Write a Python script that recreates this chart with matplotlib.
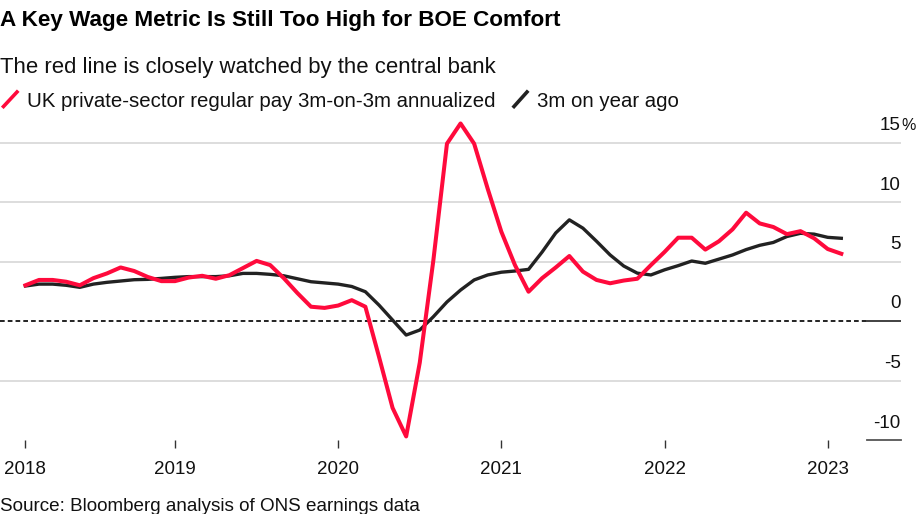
import matplotlib
matplotlib.use('Agg')
import matplotlib.pyplot as plt
from matplotlib.lines import Line2D
import matplotlib.transforms as mtransforms

plt.rcParams['font.family'] = ['Liberation Sans', 'DejaVu Sans']

# ---- data (month index: 0 = Jan 2018) ----
months = list(range(1, 62))  # Feb 2018 .. Feb 2023
red_3m3m = [3.0, 3.45, 3.45, 3.3, 3.0, 3.6, 4.0, 4.5, 4.2, 3.7, 3.35,
            3.35, 3.65, 3.8, 3.55, 3.85, 4.45, 5.05, 4.7, 3.6, 2.35, 1.2,
            1.1, 1.3, 1.75, 1.2, -3.0, -7.3, -9.7, -3.5, 5.1, 14.9, 16.6,
            14.9, 11.1, 7.5, 4.7, 2.46, 3.6, 4.5, 5.46, 4.15, 3.45, 3.17,
            3.4, 3.55, 4.7, 5.8, 7.0, 7.0, 6.0, 6.7, 7.7, 9.1, 8.2, 7.9,
            7.3, 7.55, 6.95, 6.05, 5.65]
black_yoy = [2.94, 3.1, 3.1, 3.0, 2.83, 3.1, 3.25, 3.36, 3.47, 3.5, 3.58,
             3.67, 3.73, 3.73, 3.73, 3.8, 4.0, 4.0, 3.92, 3.8, 3.55, 3.3,
             3.2, 3.1, 2.9, 2.46, 1.34, 0.08, -1.18, -0.76, 0.36, 1.6, 2.6,
             3.45, 3.87, 4.1, 4.2, 4.34, 5.8, 7.4, 8.5, 7.8, 6.7, 5.55,
             4.62, 4.02, 3.87, 4.3, 4.65, 5.04, 4.85, 5.2, 5.55, 6.0, 6.36,
             6.6, 7.1, 7.37, 7.3, 7.03, 6.95]
year_labels = ['2018', '2019', '2020', '2021', '2022', '2023']
y_ticks = [15, 10, 5, 0, -5, -10]
y_tick_labels = ['15', '10', '5', '0', '-5', '-10']

title = 'A Key Wage Metric Is Still Too High for BOE Comfort'
subtitle = 'The red line is closely watched by the central bank'
legend_red = 'UK private-sector regular pay 3m-on-3m annualized'
legend_black = '3m on year ago'
source = 'Source: Bloomberg analysis of ONS earnings data'

RED = '#ff0a3c'
BLACK = '#222222'
GRID = '#dadada'

W, H = 916, 514
fig = plt.figure(figsize=(W / 100, H / 100), dpi=100)

ax_left, ax_right = 0, 901
ax_top, ax_bottom = 118.7, 440
ax = fig.add_axes([ax_left / W, 1 - ax_bottom / H,
                   (ax_right - ax_left) / W, (ax_bottom - ax_top) / H])
ax.set_xlim(-0.869, 65.39)
ax.set_ylim(-10, 17.0)
for s in ax.spines.values():
    s.set_visible(False)
ax.set_yticks([])

# gridlines
plot_end = 867 / 901
for v in y_ticks:
    if v in (0, -10):
        continue
    ax.axhline(v, color=GRID, lw=1.3, zorder=1)
ax.axhline(0, xmin=0, xmax=plot_end, color='#111111', lw=1.3,
           linestyle=(0, (2.6, 1.7)), zorder=1)
ax.axhline(0, xmin=plot_end, xmax=1, color='#333333', lw=1.3, zorder=1)
ax.axhline(-10, xmin=plot_end, xmax=1, color='#555555', lw=1.3, zorder=1,
           clip_on=False)

# series
ax.plot(months, black_yoy, color=BLACK, lw=2.4, zorder=3)
ax.plot(months, red_3m3m, color=RED, lw=2.9, zorder=4)

# x ticks: year starts, first one clipped to data start
xt = [max(12 * i, months[0]) for i in range(len(year_labels))]
ax.set_xticks(xt)
ax.set_xticklabels(year_labels)
ax.tick_params(axis='x', length=6, width=1, color='#333333', pad=9,
               labelsize=13.5, labelcolor='#111111')

# y labels above gridlines at right
trans = mtransforms.blended_transform_factory(ax.transAxes, ax.transData)
trans_up = mtransforms.offset_copy(trans, fig=fig, y=12.5, units='dots')
for v, lab in zip(y_ticks, y_tick_labels):
    ax.text(0.9995, v, lab, transform=trans_up, ha='right', va='baseline',
            fontsize=13.5, color='#111111')
ax.text(1.0, 15, '%', transform=trans_up, ha='left', va='baseline',
        fontsize=11.5, color='#111111', clip_on=False)

# titles
fig.text(0.0, 1 - 26 / H, title, fontsize=16.2, fontweight='bold',
         va='baseline', ha='left', color='#000000')
fig.text(0.0, 1 - 73 / H, subtitle, fontsize=15.9, va='baseline', ha='left',
         color='#111111')

# legend
def px(x, y):
    return x / W, 1 - y / H

x0, y0 = px(3.5, 106.5); x1, y1 = px(17, 92)
fig.add_artist(Line2D([x0, x1], [y0, y1], color=RED, lw=2.6,
                      transform=fig.transFigure))
fig.text(27 / W, 1 - 107 / H, legend_red, fontsize=14.7, va='baseline',
         ha='left', color='#111111')
x0, y0 = px(514, 106.5); x1, y1 = px(527, 92)
fig.add_artist(Line2D([x0, x1], [y0, y1], color=BLACK, lw=2.6,
                      transform=fig.transFigure))
fig.text(537 / W, 1 - 107 / H, legend_black, fontsize=14.7, va='baseline',
         ha='left', color='#111111')

# source
fig.text(0.0, 1 - 511 / H, source, fontsize=13.6, va='baseline', ha='left',
         color='#111111')

fig.savefig('out.png', dpi=100)
